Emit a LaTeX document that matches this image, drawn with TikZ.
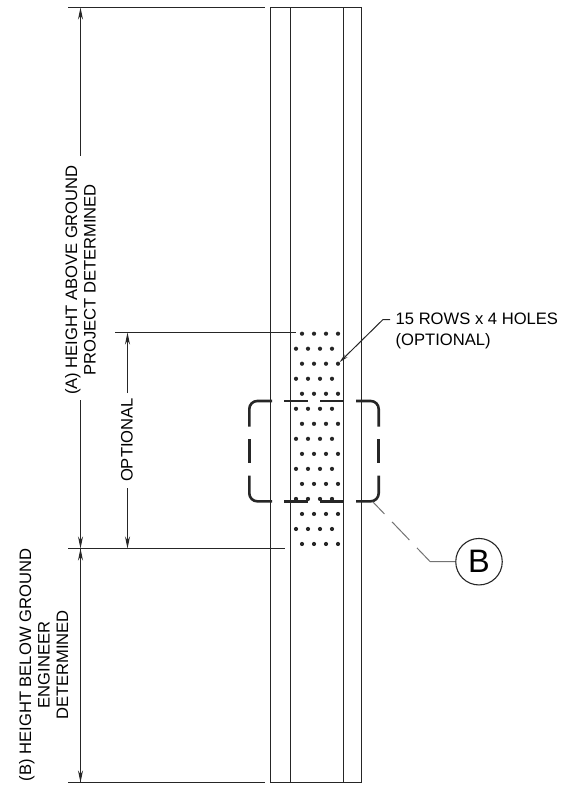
\documentclass[tikz,border=0pt]{standalone}
\usepackage{fontspec}
\setmainfont{Liberation Sans}
\usetikzlibrary{arrows.meta}

\tikzset{
    edge/.style={line width=1pt,black!85},
    dim/.style={line width=1pt,black!85},
    tip/.style={-{Stealth[length=12pt,width=5pt]}},
    lbl/.style={inner sep=0pt,align=center,font=\fontsize{16.6}{18.5}\selectfont},
    hole/.style={circle,fill=black!85,inner sep=0pt,minimum size=4.2pt},
    detail/.style={line width=2.6pt,black!85}
}

\begin{document}
\begin{tikzpicture}[line cap=butt,line join=round,x=1pt,y=-1pt]
    \useasboundingbox (0,0) rectangle (563,786);

    % Post
    \coordinate (T1) at (270.5,7.5);
    \coordinate (B1) at (270.5,782.5);
    \coordinate (T2) at (290.5,7.5);
    \coordinate (B2) at (290.5,782.5);
    \coordinate (T3) at (343.5,7.5);
    \coordinate (B3) at (343.5,782.5);
    \coordinate (T4) at (361.5,7.5);
    \coordinate (B4) at (361.5,782.5);
    \foreach \source/\target in {T1/B1, T2/B2, T3/B3, T4/B4} {
            \draw[edge] (\source) -- (\target);
        }
    \draw[edge] (T1) -- (T4);
    \draw[edge] (B1) -- (B4);

    % Extension lines
    \coordinate (E1) at (68,7.5);
    \coordinate (E2) at (265,7.5);
    \coordinate (E3) at (68,548.5);
    \coordinate (E4) at (285,548.5);
    \coordinate (E5) at (68,782.5);
    \coordinate (E6) at (265,782.5);
    \coordinate (E7) at (115,332.5);
    \coordinate (E8) at (296,332.5);
    \foreach \source/\target in {E1/E2, E3/E4, E5/E6, E7/E8} {
            \draw[dim] (\source) -- (\target);
        }

    % Holes
    \foreach \row in {0,2,...,14} {
            \foreach \col in {0,1,2,3} {
                    \node[hole] (H\row-\col) at (302+12*\col,333.7+15.02*\row) {};
                }
        }
    \foreach \row in {1,3,...,13} {
            \foreach \col in {0,1,2,3} {
                    \node[hole] (H\row-\col) at (296+12*\col,333.7+15.02*\row) {};
                }
        }

    % Labels
    \node[lbl,rotate=90] (A) at (80.5,280) {(A) HEIGHT ABOVE GROUND\\PROJECT DETERMINED};
    \node[lbl,rotate=90] (O) at (127,440) {OPTIONAL};
    \node[lbl,rotate=90] (Bt) at (43.5,665) {(B) HEIGHT BELOW GROUND\\ENGINEER\\DETERMINED};
    \node[lbl,align=left,anchor=west,font=\fontsize{16.6}{20.5}\selectfont] (N) at (395.5,331) {15 ROWS x 4 HOLES\\(OPTIONAL)};

    % Dimension lines
    \coordinate (D1) at (80.5,7.5);
    \coordinate (D2) at (80.5,548.5);
    \coordinate (D3) at (127.5,332.5);
    \coordinate (D4) at (127.5,548.5);
    \coordinate (D5) at (80.5,782.5);
    \coordinate (D6) at (80.5,156);
    \coordinate (D7) at (80.5,400);
    \coordinate (D8) at (127.5,393);
    \coordinate (D9) at (127.5,488);
    \draw[dim,tip] (D6) -- (D1);
    \draw[dim,tip] (D7) -- (D2);
    \draw[dim,tip] (D8) -- (D3);
    \draw[dim,tip] (D9) -- (D4);
    \draw[dim,tip] (D2) -- (D5);
    \draw[dim,tip] (D5) -- (D2);

    % Hole leader
    \coordinate (L1) at (390,319.5);
    \coordinate (L2) at (383,319.5);
    \draw[dim,-{Stealth[length=9pt,width=4pt]}] (L1) -- (L2) -- (H2-3);

    % Detail outline
    \draw[detail,rounded corners=8pt] (272,401) -- (249.3,401) -- (249.3,426.7);
    \draw[detail] (249.3,439) -- (249.3,463);
    \draw[detail,rounded corners=8pt] (249.3,475.7) -- (249.3,501.3) -- (272,501.3);
    \draw[detail] (284,401) -- (308,401);
    \draw[detail] (320,401) -- (344,401);
    \draw[detail] (284,501.3) -- (308,501.3);
    \draw[detail] (320,501.3) -- (344,501.3);
    \draw[detail,rounded corners=8pt] (356,401) -- (378.7,401) -- (378.7,426.7);
    \draw[detail] (378.7,439) -- (378.7,463);
    \draw[detail,rounded corners=8pt] (378.7,475.7) -- (378.7,501.3) -- (356,501.3);

    % Callout
    \node[circle,draw=black!85,line width=1.1pt,minimum size=46.5pt,inner sep=0pt,font=\fontsize{32.5}{32.5}\selectfont] (C) at (479,561.7) {B};
    \coordinate (K1) at (372.7,501.7);
    \coordinate (K2) at (430,561.5);
    \draw[line width=1pt,black!55,dash pattern=on 25pt off 11pt,dash phase=8pt] (K1) -- (K2);
    \draw[line width=1pt,black!55] (K2) -- (C);
\end{tikzpicture}
\end{document}
